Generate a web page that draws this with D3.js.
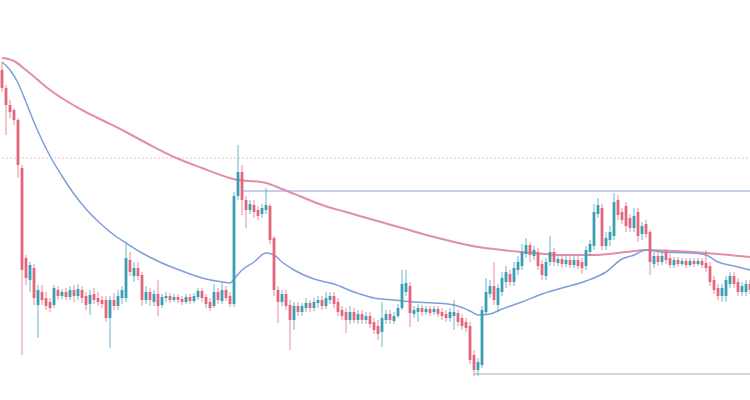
<!DOCTYPE html>
<html>
<head>
<meta charset="utf-8">
<script src="https://cdn.jsdelivr.net/npm/d3@7"></script>
<style>
  html, body { margin: 0; padding: 0; background: #fff; }
  svg { display: block; }
</style>
</head>
<body>
<div id="chart"></div>
<script>
// Candles: [open, high, low, close], one per bar, left to right
const candles = [
  [330,338,308,312],[312,315,265,295],[295,300,282,288],[290,292,275,280],[280,282,222,235],
  [232,235,45,130],[142,145,115,122],[120,138,108,135],[132,136,95,102],[95,115,62,110],
  [108,115,95,100],[102,108,90,94],[98,102,88,92],[95,115,92,112],[110,114,100,104],
  [104,111,101,108],[108,112,100,103],[103,114,100,110],[110,115,98,104],[104,116,100,111],
  [110,114,97,102],[104,108,90,95],[96,110,85,105],[106,112,96,100],[102,108,94,98],
  [100,104,92,96],[100,104,78,82],[82,104,52,100],[100,107,90,94],[94,110,90,104],
  [102,114,96,110],[102,156,98,142],[140,148,124,128],[124,138,118,132],[132,138,120,124],
  [125,128,94,100],[100,114,96,108],[108,112,94,100],[98,110,94,106],[106,120,84,94],
  [95,106,92,103],[102,108,98,104],[104,107,97,100],[100,106,98,103],[103,106,97,100],
  [101,104,95,98],[98,106,96,103],[103,106,96,99],[99,107,97,104],[103,112,100,109],
  [109,112,98,102],[103,106,92,96],[98,102,89,92],[94,116,92,108],[108,112,96,100],
  [99,117,96,110],[110,114,99,102],[104,108,93,96],[96,208,93,204],[204,255,200,228],
  [228,235,185,200],[200,204,172,190],[190,200,186,196],[195,200,182,188],[190,194,180,184],
  [186,196,182,192],[190,212,186,195],[194,196,156,160],[162,164,104,110],[110,114,77,98],
  [98,110,94,106],[106,110,90,94],[95,100,50,80],[80,98,70,94],[94,98,84,88],
  [88,97,84,94],[92,102,88,97],[97,100,88,92],[92,102,89,98],[97,104,92,100],
  [100,104,90,94],[94,108,91,102],[100,108,96,104],[104,108,92,96],[98,102,84,88],
  [90,94,80,84],[88,92,67,80],[80,94,76,88],[88,92,77,80],[80,90,76,86],
  [86,90,76,80],[80,88,76,84],[84,88,72,76],[78,82,66,70],[74,80,60,66],
  [68,98,53,82],[80,90,76,86],[86,90,76,80],[79,88,76,84],[84,96,82,92],
  [92,130,90,116],[108,130,104,117],[114,118,73,87],[86,94,82,90],[88,96,78,92],
  [92,95,84,88],[88,94,85,91],[91,94,84,87],[88,94,85,91],[91,94,83,86],
  [88,92,80,84],[86,90,78,82],[82,92,78,88],[84,100,70,88],[87,90,74,78],
  [82,86,70,74],[78,82,68,72],[74,78,36,40],[45,50,24,30],[30,42,24,38],
  [35,94,32,90],[88,122,85,108],[106,120,102,114],[114,138,95,100],[95,116,88,112],
  [108,128,104,122],[118,134,112,128],[126,130,114,118],[118,138,114,132],[130,144,125,138],
  [134,156,130,148],[146,162,142,155],[155,158,138,145],[144,154,140,150],[148,152,130,134],
  [136,140,120,125],[124,142,120,138],[138,164,134,148],[148,152,134,138],[137,144,134,141],
  [141,145,132,136],[136,144,133,140],[140,144,132,135],[135,144,132,140],[140,144,131,134],
  [138,142,126,132],[134,154,130,150],[148,160,144,156],[154,196,150,188],[186,202,182,195],
  [192,196,150,154],[154,168,150,162],[160,174,154,168],[164,207,160,198],[200,205,180,185],
  [188,192,176,180],[194,198,168,174],[182,186,168,172],[172,192,168,184],[188,192,158,164],
  [166,178,160,174],[176,180,162,166],[168,170,125,138],[136,148,132,144],[144,148,134,138],
  [138,148,135,144],[148,151,136,140],[142,146,132,135],[135,143,132,140],[140,143,133,136],
  [136,142,134,139],[139,142,132,135],[135,142,133,139],[139,142,133,136],[136,142,134,139],
  [139,142,132,135],[137,150,128,132],[134,138,114,118],[120,124,106,110],[112,116,100,104],
  [104,116,98,112],[104,124,98,120],[116,128,112,124],[124,128,112,116],[118,122,104,108],
  [108,118,104,114],[108,120,104,116],[116,120,106,110]
];

// Fast moving average (blue): [bar index, value]
const maFast = [
  [0,338],[2,330],[4,317],[6,298],[8,278],[10,260],[12,244],[15,224],[18,206],[21,191],
  [25,175],[28,165],[31,157],[35,147],[40,137],[45,129],[50,122],[55,118],[57,117],[58,121],
  [60,130],[63,138],[66,147],[68,145],[70,138],[73,130],[78,121],[83,116],[88,108],[93,102],
  [98,100],[103,98],[108,97],[113,95],[117,89],[119,85],[122,86],[125,91],[130,98],[135,106],
  [140,112],[146,119],[151,128],[155,141],[158,145],[161,150],[165,148],[172,147],[176,145],
  [179,138],[183,134],[187,130]
];

// Slow moving average (pink)
const maSlow = [
  [0,342],[3,339],[6,330],[12,310],[20,290],[25,280],[31,268],[37,255],[43,243],[50,232],
  [57,222],[59,220],[62,219],[66,217],[70,211],[75,203],[80,195],[86,188],[93,180],[100,172],
  [110,161],[119,153],[125,150],[133,147],[140,145],[148,145],[156,148],[161,150],[168,149],
  [176,147],[187,143]
];

// Horizontal levels: value and the bar they start from
const levelValues = [242, 209, 26];
const levelStart  = [0, 60, 118];
const levelNames  = ["dotted", "resistance", "support"];

const W = 750, H = 400;
const UP = "#3b9eb2", DOWN = "#e2667c";

const svg = d3.select("#chart").append("svg")
  .attr("width", W).attr("height", H);

// the reference is a soft, slightly blurred screenshot
svg.append("defs").append("filter")
  .attr("id", "soft")
  .append("feGaussianBlur").attr("stdDeviation", 0.45);

const root = svg.append("g").attr("filter", "url(#soft)");

const x = d3.scaleLinear().domain([0, candles.length - 1]).range([2, 750]);
const y = d3.scaleLinear().domain([0, 400]).range([400, 0]);
const bodyW = 2.8;

// levels first, under everything
const levelStyle = {
  dotted:     { stroke: "#f0bcc6", width: 1, dash: "2,2" },
  resistance: { stroke: "#b3c2e6", width: 1.6, dash: null },
  support:    { stroke: "#c6c8d2", width: 1.6, dash: null }
};
levelValues.forEach((v, k) => {
  const s = levelStyle[levelNames[k]];
  root.append("line")
    .attr("x1", x(levelStart[k])).attr("x2", W)
    .attr("y1", y(v)).attr("y2", y(v))
    .attr("stroke", s.stroke)
    .attr("stroke-width", s.width)
    .attr("stroke-dasharray", s.dash);
});

// moving averages
const line = d3.line()
  .x(d => x(d[0]))
  .y(d => y(d[1]))
  .curve(d3.curveMonotoneX);

root.append("path").datum(maSlow)
  .attr("d", line).attr("fill", "none")
  .attr("stroke", "#e38ea8").attr("stroke-width", 2);

root.append("path").datum(maFast)
  .attr("d", line).attr("fill", "none")
  .attr("stroke", "#7f9fd8").attr("stroke-width", 1.5);

// candles
const g = root.append("g").attr("class", "candles");
const c = g.selectAll("g").data(candles).enter().append("g")
  .attr("fill", d => d[3] >= d[0] ? UP : DOWN)
  .attr("stroke", d => d[3] >= d[0] ? UP : DOWN);

c.append("line")
  .attr("x1", (d, i) => x(i)).attr("x2", (d, i) => x(i))
  .attr("y1", d => y(d[1])).attr("y2", d => y(d[2]))
  .attr("stroke-width", 1)
  .attr("stroke-opacity", 0.75);

c.append("rect")
  .attr("x", (d, i) => x(i) - bodyW / 2)
  .attr("width", bodyW)
  .attr("y", d => y(Math.max(d[0], d[3])))
  .attr("height", d => Math.max(1, Math.abs(y(d[0]) - y(d[3]))))
  .attr("stroke", "none");
</script>
</body>
</html>
